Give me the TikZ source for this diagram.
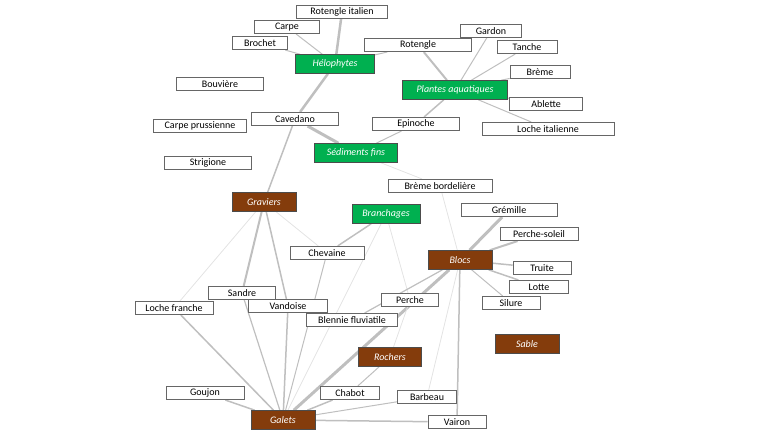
\documentclass[tikz,border=0pt]{standalone}
\usepackage{fontspec}
\setmainfont{Carlito}
\usetikzlibrary{backgrounds}
\definecolor{vert}{HTML}{00B050}
\definecolor{brun}{HTML}{843C0C}
\definecolor{lien}{HTML}{BFBFBF}
\definecolor{lienc}{HTML}{E3E3E3}
\begin{document}
\begin{tikzpicture}[x=1pt,y=-1pt,
  sp/.style={draw=black!60,line width=0.6pt,fill=white,inner sep=0pt,minimum height=13.5pt,font=\fontsize{10}{12}\selectfont},
  hv/.style={draw=black!70,line width=0.6pt,fill=vert,text=white,inner sep=0pt,minimum height=19pt,font=\fontsize{10}{12}\selectfont\itshape},
  hb/.style={draw=black!70,line width=0.6pt,fill=brun,text=white,inner sep=0pt,minimum height=19pt,font=\fontsize{10}{12}\selectfont\itshape},
  e/.style={draw=lien,line width=#1pt},e/.default=1,
  el/.style={draw=lienc,line width=0.8pt}]
\useasboundingbox (0,0) rectangle (760,440);
\node[sp,minimum width=91pt] (ri) at (342,12) {Rotengle italien};
\node[sp,minimum width=65pt] (carpe) at (287,27) {Carpe};
\node[sp,minimum width=55pt] (brochet) at (260,43) {Brochet};
\node[hv,minimum width=79pt] (helo) at (335,64) {Hélophytes};
\node[sp,minimum width=107pt] (rot) at (418,45) {Rotengle};
\node[sp,minimum width=61pt] (gardon) at (491,31) {Gardon};
\node[sp,minimum width=60pt] (tanche) at (527,47) {Tanche};
\node[sp,minimum width=60pt] (breme) at (540,72) {Brème};
\node[hv,minimum width=105pt] (pa) at (455,90) {Plantes aquatiques};
\node[sp,minimum width=73pt] (ablette) at (546,104) {Ablette};
\node[sp,minimum width=132pt] (li) at (548,129) {Loche italienne};
\node[sp,minimum width=87pt] (bouv) at (220,84) {Bouvière};
\node[sp,minimum width=87pt] (cav) at (295,119) {Cavedano};
\node[sp,minimum width=93pt] (cp) at (200,126) {Carpe prussienne};
\node[sp,minimum width=87pt] (epi) at (416,124) {Epinoche};
\node[hv,minimum width=83pt] (sed) at (356,153) {Sédiments fins};
\node[sp,minimum width=87pt] (strig) at (208,163) {Strigione};
\node[sp,minimum width=104pt] (bb) at (440,186) {Brème bordelière};
\node[hb,minimum width=64pt] (grav) at (264,202) {Graviers};
\node[hv,minimum width=68pt] (bran) at (386,214) {Branchages};
\node[sp,minimum width=96pt] (grem) at (509,210) {Grémille};
\node[sp,minimum width=78pt] (ps) at (539,234) {Perche-soleil};
\node[sp,minimum width=74pt] (chev) at (327,253) {Chevaine};
\node[hb,minimum width=64pt] (blocs) at (460,260) {Blocs};
\node[sp,minimum width=58pt] (truite) at (542,268) {Truite};
\node[sp,minimum width=59pt] (lotte) at (539,287) {Lotte};
\node[sp,minimum width=58pt] (silure) at (511,303) {Silure};
\node[sp,minimum width=67pt] (sandre) at (242,293) {Sandre};
\node[sp,minimum width=78pt] (lf) at (174,308) {Loche franche};
\node[sp,minimum width=79pt] (vand) at (288,306) {Vandoise};
\node[sp,minimum width=57pt] (perche) at (410,300) {Perche};
\node[sp,minimum width=91pt] (blen) at (352,320) {Blennie fluviatile};
\node[hb,minimum width=64pt] (sable) at (527,344) {Sable};
\node[hb,minimum width=63pt] (roch) at (390,357) {Rochers};
\node[sp,minimum width=78pt] (goujon) at (205,393) {Goujon};
\node[sp,minimum width=59pt] (chabot) at (350,393) {Chabot};
\node[sp,minimum width=59pt] (barbeau) at (427,397) {Barbeau};
\node[hb,minimum width=64pt] (galets) at (283,420) {Galets};
\node[sp,minimum width=58pt] (vairon) at (457,422) {Vairon};
\begin{scope}[on background layer]
\draw[e=2.5] (helo) -- (ri);
\draw[e] (helo) -- (carpe);
\draw[e] (helo) -- (brochet);
\draw[e] (helo) -- (rot);
\draw[e=2.5] (helo) -- (cav);
\draw[e=1.5] (cav) -- (grav);
\draw[e=3] (cav) -- (sed);
\draw[e=2] (rot) -- (pa);
\draw[e] (pa) -- (gardon);
\draw[e] (pa) -- (tanche);
\draw[e] (pa) -- (breme);
\draw[e] (pa) -- (ablette);
\draw[e] (pa) -- (li);
\draw[e=1.5] (pa) -- (epi);
\draw[e] (epi) -- (sed);
\draw[el] (sed) -- (bb);
\draw[el] (bb) -- (blocs);
\draw[el] (grav) -- (lf);
\draw[e=2] (grav) -- (sandre);
\draw[e=1.5] (grav) -- (vand);
\draw[el] (grav) -- (chev);
\draw[e=1.5] (lf) -- (galets);
\draw[e=1.2] (sandre) -- (galets);
\draw[e=1.5] (vand) -- (galets);
\draw[e] (chev) -- (galets);
\draw[el] (bran) -- (galets);
\draw[e=3] (blocs) -- (galets);
\draw[e=1.5] (bran) -- (chev);
\draw[el] (bran) -- (perche);
\draw[el] (perche) -- (roch);
\draw[e=1.2] (blocs) -- (blen);
\draw[e=3] (blocs) -- (grem);
\draw[e=2] (blocs) -- (ps);
\draw[e=1.5] (blocs) -- (truite);
\draw[e=1.5] (blocs) -- (lotte);
\draw[e] (blocs) -- (silure);
\draw[e=1.5] (blocs) -- (vairon);
\draw[el] (blocs) -- (barbeau);
\draw[e=1.5] (goujon) -- (galets);
\draw[e=1.5] (chabot) -- (galets);
\draw[e] (roch) -- (chabot);
\draw[e] (barbeau) -- (galets);
\draw[e=1.5] (vairon) -- (galets);
\end{scope}
\end{tikzpicture}
\end{document}
